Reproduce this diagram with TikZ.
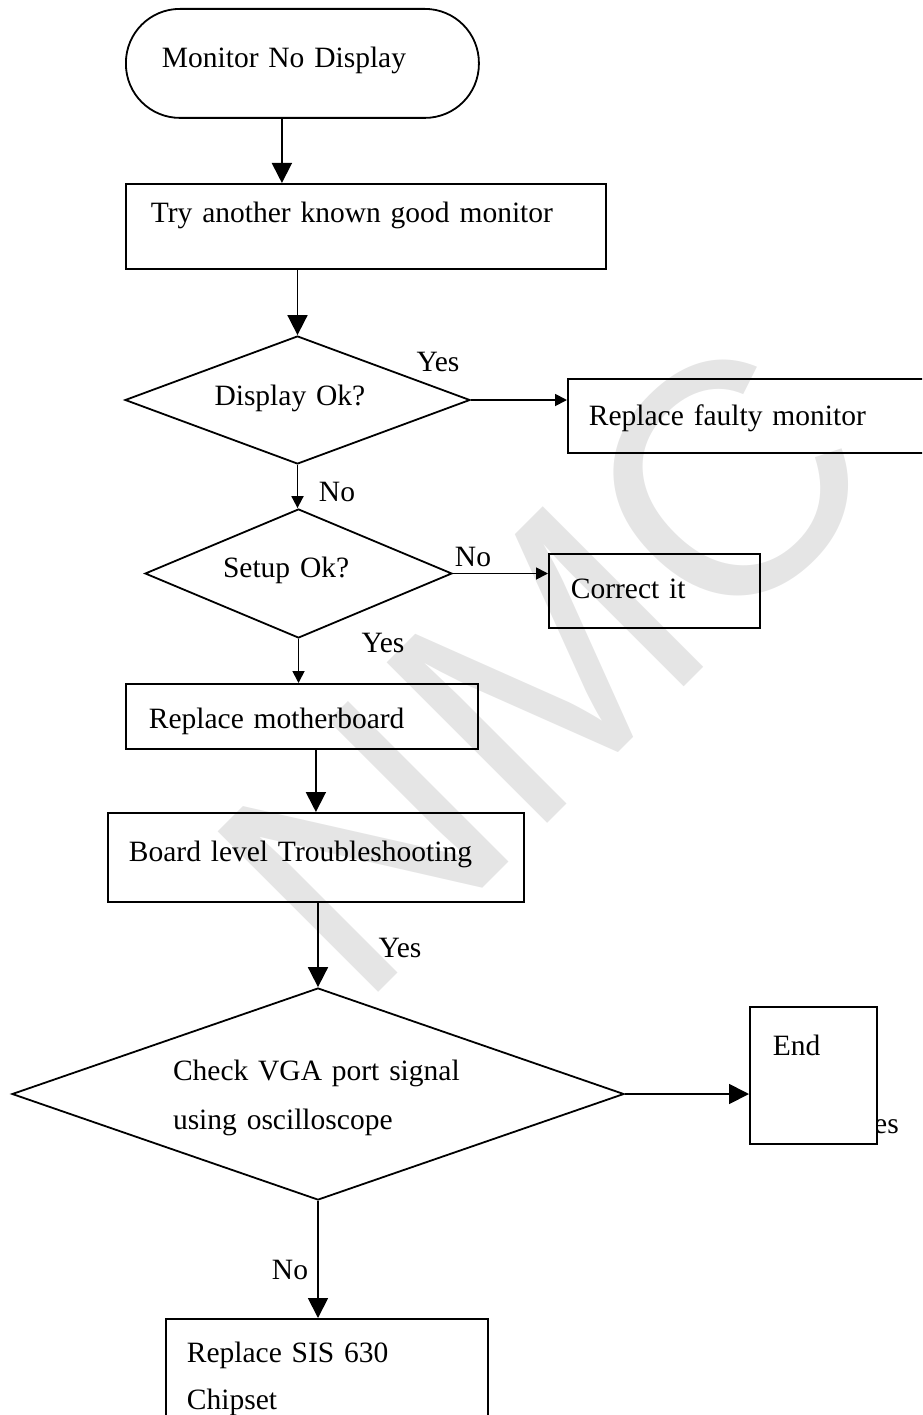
\documentclass[tikz,border=0pt]{standalone}
\usepackage{fontspec}
\setmainfont{Liberation Serif}
\newfontfamily\markfont{Liberation Sans}
\usepackage{tikz}
\usetikzlibrary{shapes.geometric, arrows.meta, positioning}
\usepackage{xcolor}
\definecolor{MarkGray}{RGB}{229, 229, 229}
\newcommand{\flowfont}{\fontsize{29.5}{47}\selectfont}

\begin{document}
\begin{tikzpicture}[x=1pt, y=-1pt,
            box/.style={draw, line width=1.8pt, rectangle, anchor=north west, inner ysep=0pt, align=left, font=\flowfont},
            decision/.style={draw, line width=1.8pt, diamond, inner sep=0pt, align=left, font=\flowfont},
            lbl/.style={font=\flowfont, inner sep=0pt},
            bigarrow/.style={line width=1.8pt, -{Triangle[length=20pt, width=20pt]}},
            smallarrow/.style={line width=1.8pt, -{Triangle[length=12pt, width=12pt]}}
        ]

        % Page
        \useasboundingbox (0,0) rectangle (922,1415);
        \clip (0,0) rectangle (922,1415);

        % Watermark
        \node[rotate=45, text=MarkGray, font=\markfont\fontsize{330}{330}\selectfont, inner sep=0pt] (mark) at (545,665) {NMC};

        % The Boxes
        \node[box, rounded corners=54pt, minimum width=353pt, minimum height=109pt, inner xsep=36pt, text width=281pt, text height=20pt, text depth=11pt] (start) at (125,8) {Monitor No Display};
        \node[box, minimum width=480pt, minimum height=85pt, inner xsep=25pt, text width=430pt, text height=20pt, text depth=27pt] (try) at (125,183) {Try another known good monitor};
        \node[decision, aspect=2.7, minimum width=345pt, minimum height=128pt, text width=166pt, text height=20pt, text depth=9pt] (disp) at (297.5,400) {Display Ok?};
        \node[box, minimum width=433pt, minimum height=74pt, inner xsep=21pt, text width=391pt, text height=25pt, text depth=5pt] (repmon) at (567,378) {Replace faulty monitor};
        \node[decision, aspect=2.4, minimum width=307pt, minimum height=129pt, text width=151pt, text height=20pt, text depth=12pt] (setup) at (298.5,573.5) {Setup Ok?};
        \node[box, minimum width=211pt, minimum height=74pt, inner xsep=22pt, text width=167pt, text height=22pt, text depth=6pt] (fix) at (548,553) {Correct it};
        \node[box, minimum width=352pt, minimum height=65pt, inner xsep=23pt, text width=306pt, text height=30pt, text depth=5pt] (mobo) at (125,683) {Replace motherboard};
        \node[box, minimum width=416pt, minimum height=89pt, inner xsep=21pt, text width=374pt, text height=20pt, text depth=11pt] (board) at (107,812) {Board level Troubleshooting};
        \node[decision, aspect=2.9, minimum width=612pt, minimum height=212pt, text width=290pt, font=\fontsize{29.5}{49}\selectfont] (vga) at (318,1094) {\rule{0pt}{29pt}Check VGA port signal\\using oscilloscope};
        \node[lbl, anchor=base east] (endyes) at (899,1133) {Yes};
        \node[box, fill=white, minimum width=127pt, minimum height=137pt, inner xsep=23pt, text width=81pt, text height=20pt, text depth=59pt] (end) at (749,1006) {End};
        \node[box, minimum width=322pt, minimum height=119pt, inner xsep=21pt, text width=280pt] (sis) at (165,1318) {Replace SIS 630\\Chipset};

        % Labels
        \node[lbl] (dispyes) at (438,362) {Yes};
        \node[lbl] (dispno) at (337,492) {No};
        \node[lbl] (setupno) at (473,557) {No};
        \node[lbl] (setupyes) at (383,643) {Yes};
        \node[lbl] (boardyes) at (400,948) {Yes};
        \node[lbl] (vgano) at (290,1270) {No};

        % Arrows
        \draw[bigarrow] ([xshift=-20.5pt]start.south) -- ([xshift=-20.5pt]start.south |- try.north);
        \draw[bigarrow] (try.south -| disp.north) -- (disp.north);
        \draw[smallarrow] (disp.east) -- (disp.east -| repmon.west);
        \draw[smallarrow] (disp.south) -- (disp.south |- setup.north);
        \draw[smallarrow] (setup.east) -- (setup.east -| fix.west);
        \draw[smallarrow] (setup.south) -- (setup.south |- mobo.north);
        \draw[bigarrow] (board.north |- mobo.south) -- (board.north);
        \draw[bigarrow] (vga.north |- board.south) -- (vga.north);
        \draw[bigarrow] (vga.east) -- (vga.east -| end.west);
        \draw[bigarrow] (vga.south) -- (vga.south |- sis.north);

        \end{tikzpicture}
\end{document}
